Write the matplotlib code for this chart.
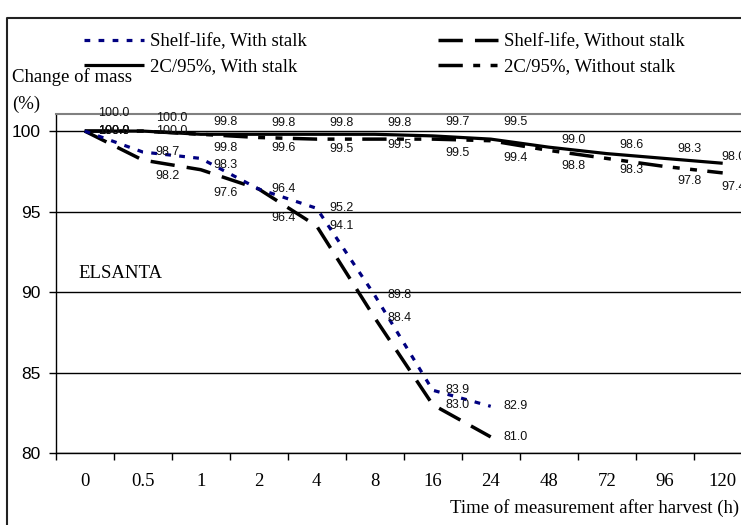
import numpy as np
import matplotlib.pyplot as plt
from matplotlib.lines import Line2D

# Data
hours = ["0", "0.5", "1", "2", "4", "8", "16", "24", "48", "72", "96", "120"]
shelf_with = [100.0, 98.7, 98.3, 96.4, 95.2, 89.8, 83.9, 82.9]
shelf_without = [100.0, 98.2, 97.6, 96.4, 94.1, 88.4, 83.0, 81.0]
cold_with = [100.0, 100.0, 99.8, 99.8, 99.8, 99.8, 99.7, 99.5, 99.0, 98.6, 98.3, 98.0]
cold_without = [100.0, 100.0, 99.8, 99.6, 99.5, 99.5, 99.5, 99.4, 98.8, 98.3, 97.8, 97.4]

# label nudges in pixels (positive = down)
dy_shelf_with = [0, 0, 7, 0, 0, 0, 0, 0]
dy_shelf_without = [0, 16, 23, 29, 0, 0, 0, 0]
dy_cold_with = [-18, -13, -12, -11, -11, -11, -14, -17, -7, -9, -9, -6]
dy_cold_without = [0, 0, 14, 10, 10, 6, 14, 17, 16, 12, 15, 14]

W, H = 741, 525
fig = plt.figure(figsize=(W / 100, H / 100), dpi=100)

def fx(px):
    return px / W

def fy(py):
    return 1 - py / H

serif = "Liberation Serif"
sans = "Liberation Sans"

ax = fig.add_axes([fx(55.7), fy(453), fx(751.7) - fx(55.7), fy(114) - fy(453)])

x_short = np.arange(len(shelf_with))
x_long = np.arange(len(cold_with))

l1, = ax.plot(x_short, shelf_with, color="#000080", lw=2.3, dashes=(1.8, 2.6),
              label="Shelf-life, With stalk", zorder=4)
l2, = ax.plot(x_short, shelf_without, color="black", lw=2.5, dashes=(7, 3.5),
              label="Shelf-life, Without stalk", zorder=3)
l3, = ax.plot(x_long, cold_with, color="black", lw=2.3, solid_capstyle="butt",
              label="2C/95%, With stalk", zorder=3)
l4, = ax.plot(x_long, cold_without, color="black", lw=2.5, dashes=(7, 3, 2, 3, 2, 3),
              label="2C/95%, Without stalk", zorder=3)

def put_labels(xs, ys, dys):
    for i, (xv, yv, d) in enumerate(zip(xs, ys, dys)):
        dx = 13 if i < 11 else -1
        ax.annotate(f"{yv:.1f}", (xv, yv), xytext=(dx, -d), textcoords="offset pixels",
                    ha="left", va="center", fontsize=9, family=sans, color="#111111",
                    zorder=6, annotation_clip=False)

put_labels(x_short, shelf_with, dy_shelf_with)
put_labels(x_short, shelf_without, dy_shelf_without)
put_labels(x_long, cold_with, dy_cold_with)
put_labels(x_long, cold_without, dy_cold_without)

ax.set_xlim(-0.5, 11.5)
ax.set_ylim(80, 101.06)
ax.set_yticks([80, 85, 90, 95, 100])
ax.set_yticklabels(["80", "85", "90", "95", "100"], family=sans, fontsize=12.5)
ax.yaxis.grid(True, color="black", lw=1)
ax.set_axisbelow(True)

ax.set_xticks(np.arange(-0.5, 12, 1))
ax.set_xticklabels([])
ax.set_xticks(x_long, minor=True)
ax.set_xticklabels(hours, minor=True, family=serif, fontsize=13.5)
ax.tick_params(axis="x", which="major", length=5, width=1, direction="out")
ax.tick_params(axis="x", which="minor", length=0, pad=14.5)
ax.tick_params(axis="y", length=5, width=1, direction="out", pad=6)

ax.spines["top"].set_color("#808080")
ax.spines["top"].set_linewidth(1.5)
ax.spines["right"].set_visible(False)
for s in ("left", "bottom"):
    ax.spines[s].set_linewidth(1)
    ax.spines[s].set_color("black")

fig.text(fx(78), fy(273), "ELSANTA", family=serif, fontsize=13.5, va="center")
fig.text(fx(12), fy(82), "Change of mass", family=serif, fontsize=13.5, va="baseline")
fig.text(fx(12), fy(104), "(%)", family=serif, fontsize=13.5, va="center")
fig.text(fx(739), fy(508), "Time of measurement after harvest (h)", family=serif,
         fontsize=13.5, va="center", ha="right")

fig.legend(handles=[l1, l3, l2, l4], ncol=2, loc="upper left",
           bbox_to_anchor=(fx(75), fy(24)), frameon=False, borderpad=0,
           handlelength=3.2, handletextpad=0.3, columnspacing=7.0, labelspacing=0.4,
           prop={"family": serif, "size": 13.5})

# outer frame of the picture
fig.add_artist(Line2D([fx(7), fx(7), fx(741)], [fy(525), fy(18), fy(18)],
                      transform=fig.transFigure, color="#222222", lw=1.5))

fig.savefig("out.png", dpi=100)
